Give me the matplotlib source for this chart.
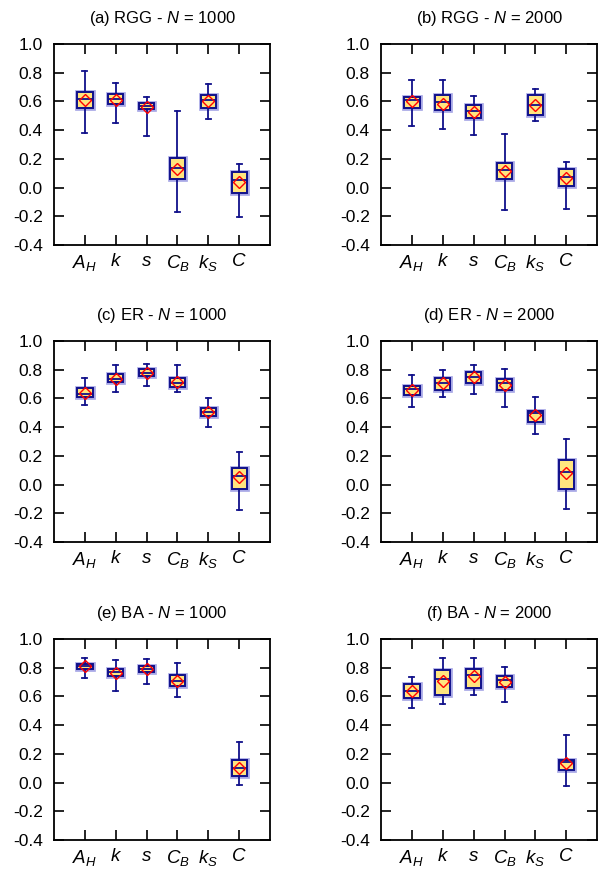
import matplotlib
matplotlib.use("Agg")
import matplotlib.pyplot as plt
import matplotlib.patheffects as pe
import numpy as np

plt.rcParams['font.family'] = ['Liberation Sans', 'DejaVu Sans']
plt.rcParams['mathtext.fontset'] = 'custom'
plt.rcParams['mathtext.rm'] = 'Liberation Sans'
plt.rcParams['mathtext.it'] = 'Liberation Sans:italic'
plt.rcParams['axes.unicode_minus'] = False

labels = ['$A_H$', '$k$', '$s$', '$C_B$', '$k_S$', '$C$']
titles = ['(a) RGG - $N$ = 1000', '(b) RGG - $N$ = 2000',
          '(c) ER - $N$ = 1000', '(d) ER - $N$ = 2000',
          '(e) BA - $N$ = 1000', '(f) BA - $N$ = 2000']

# per panel: whisker low, q1, median, q3, whisker high, mean (None = no data)
whislo = [
    [0.381, 0.451, 0.358, -0.172, 0.474, -0.205],
    [0.428, 0.409, 0.365, -0.156, 0.460, -0.149],
    [0.550, 0.646, 0.688, 0.643, 0.399, -0.175],
    [0.541, 0.611, 0.629, 0.538, 0.354, -0.170],
    [0.730, 0.640, 0.686, 0.595, None, -0.019],
    [0.521, 0.544, 0.612, 0.560, None, -0.023],
]
q1 = [
    [0.551, 0.581, 0.544, 0.056, 0.556, -0.035],
    [0.553, 0.540, 0.486, 0.056, 0.502, 0.009],
    [0.608, 0.713, 0.758, 0.678, 0.478, -0.028],
    [0.620, 0.660, 0.709, 0.655, 0.434, -0.033],
    [0.793, 0.740, 0.770, 0.670, None, 0.047],
    [0.588, 0.612, 0.656, 0.663, None, 0.086],
]
med = [
    [0.616, 0.614, 0.570, 0.135, 0.609, 0.051],
    [0.609, 0.595, 0.533, 0.121, 0.577, 0.074],
    [0.632, 0.734, 0.776, 0.706, 0.508, 0.061],
    [0.667, 0.706, 0.748, 0.706, 0.497, 0.089],
    [0.812, 0.770, 0.793, 0.707, None, 0.098],
    [0.640, 0.721, 0.749, 0.714, None, 0.142],
]
q3 = [
    [0.665, 0.653, 0.586, 0.202, 0.647, 0.107],
    [0.633, 0.642, 0.572, 0.170, 0.647, 0.126],
    [0.674, 0.769, 0.807, 0.741, 0.531, 0.117],
    [0.685, 0.741, 0.783, 0.732, 0.515, 0.170],
    [0.826, 0.788, 0.814, 0.751, None, 0.156],
    [0.686, 0.784, 0.793, 0.740, None, 0.160],
]
whishi = [
    [0.814, 0.726, 0.633, 0.535, 0.719, 0.163],
    [0.751, 0.749, 0.640, 0.370, 0.686, 0.177],
    [0.741, 0.835, 0.841, 0.832, 0.601, 0.228],
    [0.765, 0.795, 0.832, 0.807, 0.606, 0.317],
    [0.865, 0.851, 0.858, 0.830, None, 0.281],
    [0.733, 0.863, 0.863, 0.805, None, 0.328],
]
means = [
    [0.607, 0.610, 0.563, 0.126, 0.600, 0.035],
    [0.600, 0.584, 0.526, 0.116, 0.572, 0.063],
    [0.639, 0.732, 0.779, 0.711, 0.503, 0.051],
    [0.655, 0.704, 0.746, 0.690, 0.485, 0.077],
    [0.812, 0.763, 0.788, 0.707, None, 0.100],
    [0.640, 0.707, 0.740, 0.702, None, 0.137],
]

navy = '#10108a'
fill = '#ffe57f'

fig = plt.figure(figsize=(5.99, 8.71), dpi=100)
lefts = [0.090, 0.636]
bottoms = [0.7187, 0.3777, 0.0356]
W, H = 0.361, 0.231

for i in range(6):
    ax = fig.add_axes([lefts[i % 2], bottoms[i // 2], W, H])
    stats = []
    pos = []
    for j in range(6):
        if med[i][j] is None:
            continue
        stats.append(dict(whislo=whislo[i][j], q1=q1[i][j], med=med[i][j],
                          q3=q3[i][j], whishi=whishi[i][j], mean=means[i][j],
                          fliers=[]))
        pos.append(j + 1)
    glow = [pe.withStroke(linewidth=3.4, foreground='#a8a8e6')]
    bp = ax.bxp(stats, positions=pos, widths=0.5, capwidths=0.17,
                showmeans=True, patch_artist=True,
                boxprops=dict(facecolor=fill, edgecolor=navy, linewidth=1.4),
                medianprops=dict(color=navy, linewidth=1.3),
                whiskerprops=dict(color=navy, linewidth=1.3),
                capprops=dict(color=navy, linewidth=1.3),
                meanprops=dict(marker='D', markerfacecolor='none',
                               markeredgecolor='red', markersize=6.5,
                               markeredgewidth=1.0))
    for b in bp['boxes']:
        b.set_path_effects(glow)
    ax.set_xlim(0, 7)
    ax.set_ylim(-0.4, 1.0)
    ax.set_xticks(range(1, 7))
    ax.set_xticklabels(labels, fontsize=13.5)
    ax.set_yticks(np.arange(-0.4, 1.01, 0.2))
    ax.set_yticklabels(['%.1f' % v for v in np.arange(-0.4, 1.01, 0.2)], fontsize=12.5)
    ax.tick_params(direction='in', length=7, width=1.2, top=True, right=True)
    ax.tick_params(axis='x', pad=6)
    ax.tick_params(axis='y', pad=8)
    for sp in ax.spines.values():
        sp.set_linewidth(1.3)
    ax.set_title(titles[i], fontsize=12, pad=15)

fig.savefig('out.png', dpi=100)
